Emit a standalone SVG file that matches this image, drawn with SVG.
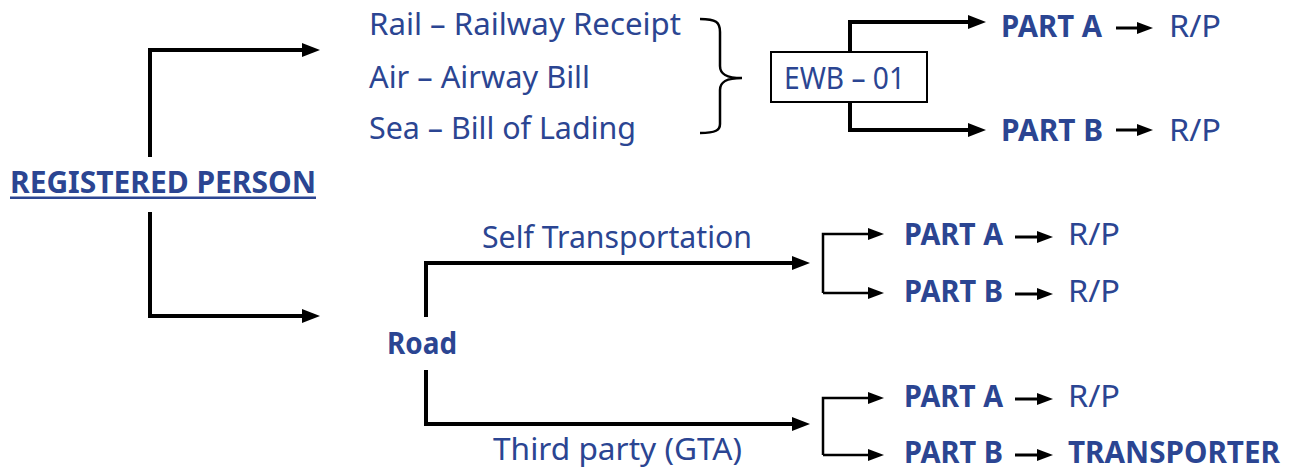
<svg xmlns="http://www.w3.org/2000/svg" width="1296" height="471" viewBox="0 0 1296 471">
<style>
.t{font-family:"Noto Sans","Liberation Sans",sans-serif;font-size:30.5px;fill:#2B4592}
.b{font-weight:bold}
.c{fill:none;stroke:#000;stroke-width:4}
.c2{fill:none;stroke:#000;stroke-width:2.5}
.c3{fill:none;stroke:#000;stroke-width:3}
</style>
<defs>
<marker id="ah" viewBox="0 0 18 14" refX="4" refY="7" markerWidth="18" markerHeight="14" markerUnits="userSpaceOnUse" orient="auto"><polygon points="0,0 18,7 0,14" fill="#000"/></marker>
<marker id="as" viewBox="0 0 16 12" refX="4" refY="6" markerWidth="16" markerHeight="12" markerUnits="userSpaceOnUse" orient="auto"><polygon points="0,0 16,6 0,12" fill="#000"/></marker>
</defs>
<g id="connectors">
<path class="c" d="M150,157 V50 H306" marker-end="url(#ah)"/>
<path class="c" d="M150,212 V316 H306" marker-end="url(#ah)"/>
<path class="c2" d="M700,19 C716,19 720,22 720,32 V66 C720,74 726,78 742,78 C726,78 720,82 720,90 V124 C720,130 716,133 700,133"/>
<path class="c" d="M850,51 V22 H972" marker-end="url(#ah)"/>
<path class="c" d="M850,103 V130 H972" marker-end="url(#ah)"/>
<path class="c3" d="M1116,28 H1141" marker-end="url(#as)"/>
<path class="c3" d="M1116,130 H1141" marker-end="url(#as)"/>
<path class="c" d="M426,317 V263 H796" marker-end="url(#ah)"/>
<path class="c" d="M426,370 V424 H796" marker-end="url(#ah)"/>
<path class="c2" d="M823,293 V234 H872" marker-end="url(#as)"/>
<path class="c2" d="M823,293 H872" marker-end="url(#as)"/>
<path class="c2" d="M823,455 V398 H872" marker-end="url(#as)"/>
<path class="c2" d="M823,455 H872" marker-end="url(#as)"/>
<path class="c3" d="M1015,237 H1041" marker-end="url(#as)"/>
<path class="c3" d="M1015,294 H1041" marker-end="url(#as)"/>
<path class="c3" d="M1015,399 H1041" marker-end="url(#as)"/>
<path class="c3" d="M1015,455 H1041" marker-end="url(#as)"/>
</g>
<g id="registered-person">
<text class="t b" x="10" y="193" textLength="306" lengthAdjust="spacingAndGlyphs">REGISTERED PERSON</text>
<rect x="10" y="196.5" width="306" height="2.5" fill="#2B4592"/>
</g>
<g id="modes">
<text class="t" x="369" y="35" textLength="312" lengthAdjust="spacingAndGlyphs">Rail – Railway Receipt</text>
<text class="t" x="369" y="88" textLength="221" lengthAdjust="spacingAndGlyphs">Air – Airway Bill</text>
<text class="t" x="369" y="139" textLength="267" lengthAdjust="spacingAndGlyphs">Sea – Bill of Lading</text>
</g>
<g id="ewb">
<rect x="771" y="52" width="156" height="50" fill="#fff" stroke="#000" stroke-width="2"/>
<text class="t" x="784" y="89" textLength="121" lengthAdjust="spacingAndGlyphs">EWB – 01</text>
</g>
<g id="ewb-part-a">
<text class="t b" x="1001" y="37" textLength="101" lengthAdjust="spacingAndGlyphs">PART A</text>
<text class="t" x="1169" y="37" textLength="52" lengthAdjust="spacingAndGlyphs">R/P</text>
</g>
<g id="ewb-part-b">
<text class="t b" x="1001" y="141" textLength="102" lengthAdjust="spacingAndGlyphs">PART B</text>
<text class="t" x="1169" y="141" textLength="52" lengthAdjust="spacingAndGlyphs">R/P</text>
</g>
<g id="road">
<text class="t b" x="387" y="354" textLength="70" lengthAdjust="spacingAndGlyphs">Road</text>
</g>
<g id="self-label">
<text class="t" x="482" y="248" textLength="270" lengthAdjust="spacingAndGlyphs">Self Transportation</text>
</g>
<g id="third-label">
<text class="t" x="493" y="460" textLength="249" lengthAdjust="spacingAndGlyphs">Third party (GTA)</text>
</g>
<g id="self-part-a">
<text class="t b" x="904" y="245" textLength="99" lengthAdjust="spacingAndGlyphs">PART A</text>
<text class="t" x="1068" y="245" textLength="52" lengthAdjust="spacingAndGlyphs">R/P</text>
</g>
<g id="self-part-b">
<text class="t b" x="904" y="302" textLength="99" lengthAdjust="spacingAndGlyphs">PART B</text>
<text class="t" x="1068" y="302" textLength="52" lengthAdjust="spacingAndGlyphs">R/P</text>
</g>
<g id="third-part-a">
<text class="t b" x="904" y="407" textLength="99" lengthAdjust="spacingAndGlyphs">PART A</text>
<text class="t" x="1068" y="407" textLength="52" lengthAdjust="spacingAndGlyphs">R/P</text>
</g>
<g id="third-part-b">
<text class="t b" x="904" y="463" textLength="99" lengthAdjust="spacingAndGlyphs">PART B</text>
<text class="t b" x="1068" y="463" textLength="212" lengthAdjust="spacingAndGlyphs">TRANSPORTER</text>
</g>
</svg>
